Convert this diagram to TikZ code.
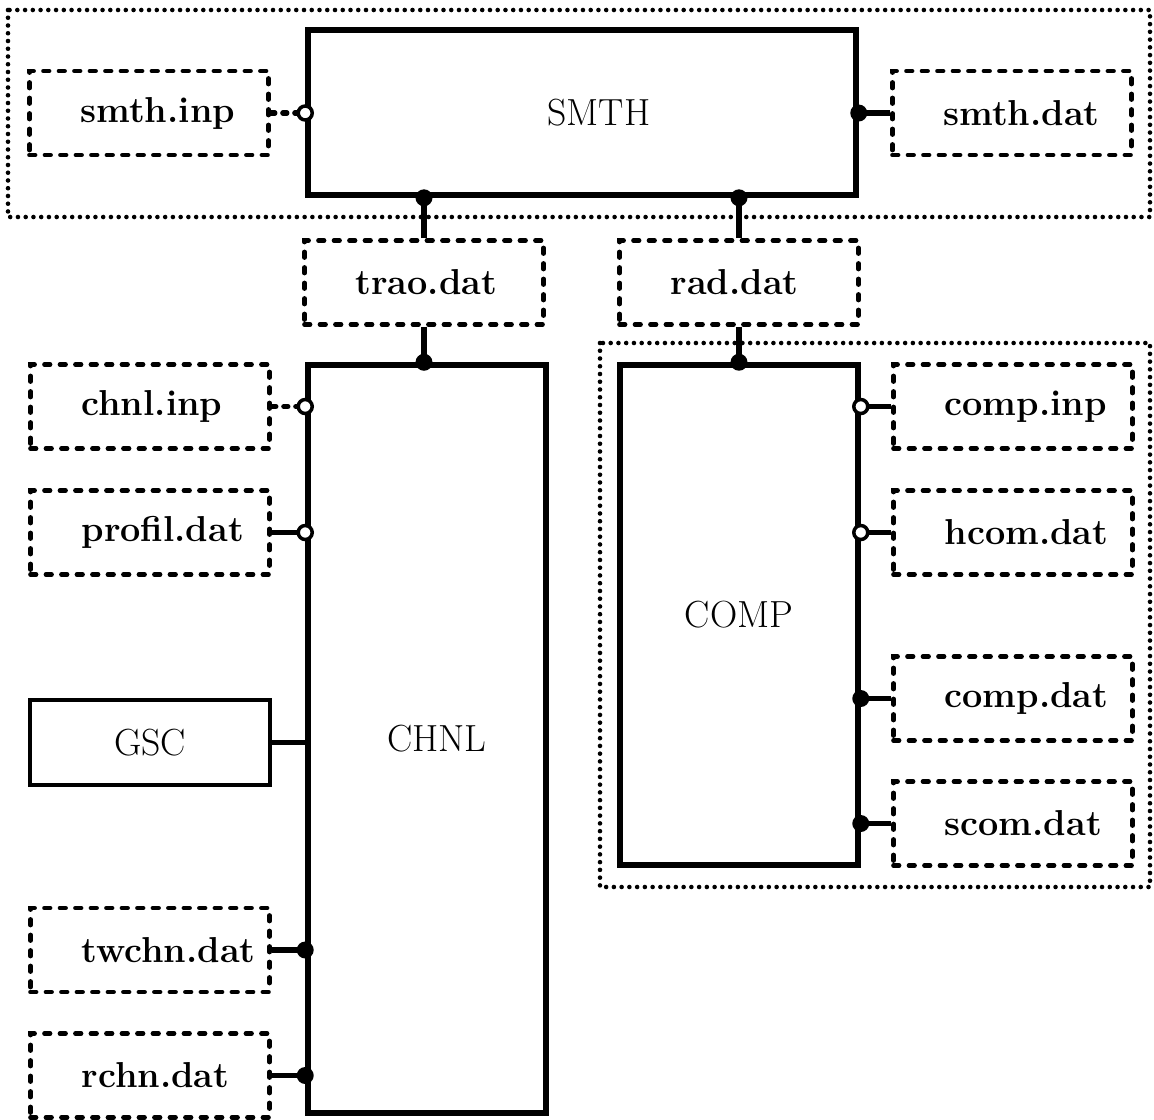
\documentclass[tikz,border=0pt]{standalone}
\usepackage{tikz}

\tikzset{
  prog/.style={draw, line width=3.2pt, inner sep=0pt, font=\fontsize{21.5}{24}\selectfont},
  fil/.style={draw, line width=2.7pt, line cap=round, dash pattern=on 0.11cm off 0.2cm,
    inner sep=0pt, text width=4.78cm, minimum height=1.68cm, align=left,
    execute at begin node={\hspace*{1.02cm}},
    font=\fontsize{20.5}{22}\selectfont\bfseries},
  grp/.style={line width=2.6pt, line cap=round, dash pattern=on 0pt off 0.155cm},
  lnk/.style={line width=3pt},
  dlnk/.style={lnk, line cap=round, dash pattern=on 0.08cm off 0.16cm},
  pin/.style={fill=black},
  opin/.style={draw, fill=white, line width=2pt},
}

\begin{document}
\begin{tikzpicture}[x=0.02cm, y=-0.02cm]
	\useasboundingbox[fill=white] (0,0) rectangle (1154,1120);

	% Верхний блок
	\draw[grp] (8,10) rectangle (1150,217);
	\node[prog, minimum width=10.96cm, minimum height=3.3cm] (smth) at (582,112.5) {\hspace*{0.68cm}SMTH};
	\node[fil] (smthinp) at (149,113) {smth.inp};
	\node[fil] (smthdat) at (1012,113) {smth.dat};

	% Файлы между блоками
	\node[fil] (trao) at (424,282.5) {trao.dat};
	\node[fil] (rad) at (739,282.5) {rad.dat};

	% Нижние блоки
	\draw[grp] (600,343) rectangle (1150,887);
	\node[prog, minimum width=4.76cm, minimum height=14.96cm] (chnl) at (427,739) {\hspace*{0.4cm}CHNL};
	\node[prog, minimum width=4.76cm, minimum height=10cm] (comp) at (739,615) {COMP};

	% Левая колонка
	\node[fil] (chnlinp) at (150,406.5) {chnl.inp};
	\node[fil] (profil) at (150,532.5) {profil.dat};
	\node[prog, line width=2.5pt, minimum width=4.8cm, minimum height=1.7cm] (gsc) at (150,742.5) {GSC};
	\node[fil] (twchn) at (150,950) {twchn.dat};
	\node[fil] (rchn) at (150,1075.5) {rchn.dat};

	% Правая колонка
	\node[fil] (compinp) at (1013,406.5) {comp.inp};
	\node[fil] (hcom) at (1013,532.5) {hcom.dat};
	\node[fil] (compdat) at (1013,698.5) {comp.dat};
	\node[fil] (scom) at (1013,823.5) {scom.dat};

	% Связи SMTH
	\draw[dlnk] (smthinp.east) -- (smthinp.east -| smth.west);
	\draw[opin] (smthinp.east -| smth.west) circle (0.14cm);
	\draw[lnk] (smthdat.west) -- (smthdat.west -| smth.east);
	\fill[pin] (smthdat.west -| smth.east) circle (0.17cm);
	\foreach \f/\p in {trao/chnl, rad/comp} {
		\draw[lnk] (\f.north) -- (\f.north |- smth.south);
		\fill[pin] (\f.north |- smth.south) circle (0.17cm);
		\draw[lnk] (\f.south) -- (\f.south |- \p.north);
		\fill[pin] (\f.south |- \p.north) circle (0.17cm);
	}

	% Связи CHNL
	\draw[dlnk] (chnlinp.east) -- (chnlinp.east -| chnl.west);
	\draw[opin] (chnlinp.east -| chnl.west) circle (0.14cm);
	\draw[lnk] (profil.east) -- (profil.east -| chnl.west);
	\draw[opin] (profil.east -| chnl.west) circle (0.14cm);
	\draw[lnk] (gsc.east) -- (gsc.east -| chnl.west);
	\foreach \f in {twchn, rchn} {
		\draw[lnk] (\f.east) -- (\f.east -| chnl.west);
		\fill[pin] (\f.east -| chnl.west) circle (0.17cm);
	}

	% Связи COMP
	\foreach \f in {compinp, hcom} {
		\draw[lnk] (\f.west) -- (\f.west -| comp.east);
		\draw[opin] (\f.west -| comp.east) circle (0.14cm);
	}
	\foreach \f in {compdat, scom} {
		\draw[lnk] (\f.west) -- (\f.west -| comp.east);
		\fill[pin] (\f.west -| comp.east) circle (0.17cm);
	}
\end{tikzpicture}
\end{document}
